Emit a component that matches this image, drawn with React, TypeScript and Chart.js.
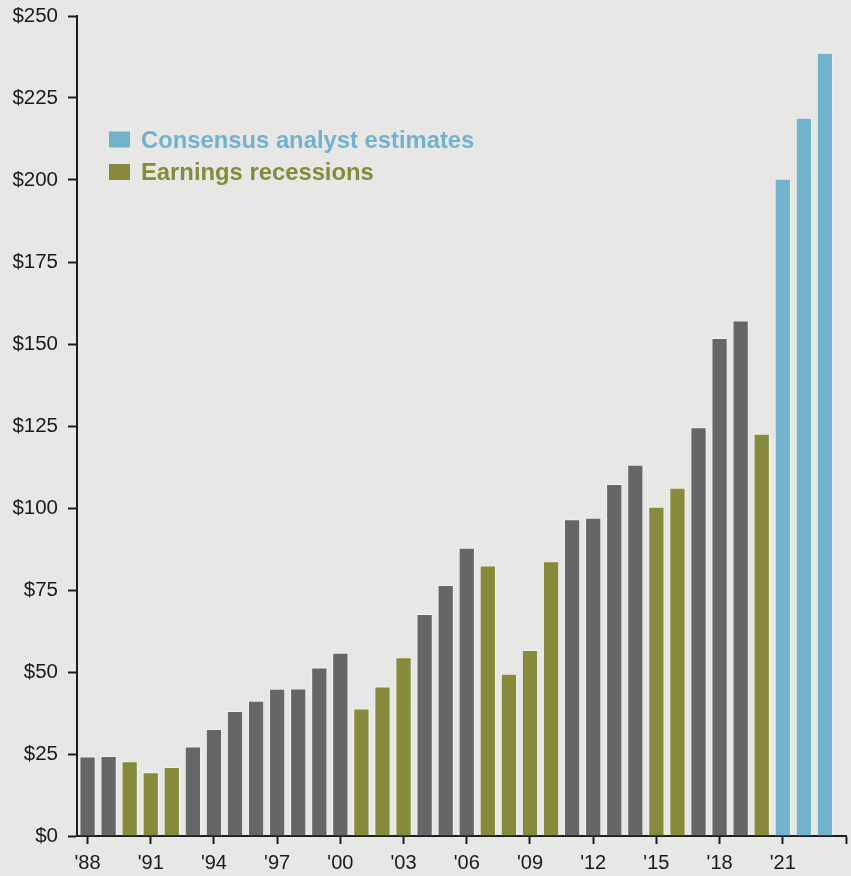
import React, { useEffect, useRef } from "react";
import { Chart, registerables } from "chart.js";

Chart.register(...registerables);

const years = [
  1988, 1989, 1990, 1991, 1992, 1993, 1994, 1995, 1996, 1997, 1998, 1999,
  2000, 2001, 2002, 2003, 2004, 2005, 2006, 2007, 2008, 2009, 2010, 2011,
  2012, 2013, 2014, 2015, 2016, 2017, 2018, 2019, 2020, 2021, 2022, 2023,
];
const eps = [
  24.2, 24.4, 22.8, 19.4, 21.0, 27.3, 32.6, 38.1, 41.2, 44.9, 45.0, 51.4,
  55.9, 38.9, 45.6, 54.5, 67.7, 76.5, 87.9, 82.5, 49.5, 56.7, 83.8, 96.6,
  97.0, 107.3, 113.2, 100.4, 106.2, 124.6, 151.8, 157.2, 122.6, 200.4, 219.0, 238.8,
];
// "a" = actual, "r" = earnings recession, "e" = consensus estimate
const barKind = [
  "a", "a", "r", "r", "r", "a", "a", "a", "a", "a", "a", "a",
  "a", "r", "r", "r", "a", "a", "a", "r", "r", "r", "r", "a",
  "a", "a", "a", "r", "r", "a", "a", "a", "r", "e", "e", "e",
];
const yTicks = [0, 25, 50, 75, 100, 125, 150, 175, 200, 225, 250];
const xTickYears = [1988, 1991, 1994, 1997, 2000, 2003, 2006, 2009, 2012, 2015, 2018, 2021, 2024];
const legendItems = ["Consensus analyst estimates", "Earnings recessions"];

const GREY = "#666666";
const GREEN = "#878a3b";
const BLUE = "#72b2cd";
const BG = "#e7e7e5";
const AXIS = "#1e1e1e";
const FONT = "'Liberation Sans', Arial, Helvetica, sans-serif";

const colorFor = (k: string) => (k === "r" ? GREEN : k === "e" ? BLUE : GREY);

const legendPlugin = {
  id: "customLegend",
  afterDraw(chart: any) {
    const ctx = chart.ctx;
    ctx.save();
    ctx.font = `bold 23.8px ${FONT}`;
    ctx.textBaseline = "alphabetic";
    ctx.textAlign = "left";
    const colors = [BLUE, GREEN];
    legendItems.forEach((t, i) => {
      const base = 147.5 + i * 32.5;
      ctx.fillStyle = colors[i];
      ctx.fillRect(109, base - 16, 21, 16);
      ctx.fillText(t, 141, base);
    });
    ctx.restore();
  },
};

export default function App() {
  const ref = useRef<HTMLCanvasElement | null>(null);
  useEffect(() => {
    if (!ref.current) return;
    const chart = new Chart(ref.current, {
      type: "bar",
      data: {
        datasets: [
          {
            data: years.map((y, i) => ({ x: y, y: eps[i] })),
            backgroundColor: barKind.map(colorFor),
            borderColor: "rgba(255,255,255,0.45)",
            borderWidth: 1,
            barPercentage: 0.77,
            categoryPercentage: 1,
          },
        ],
      },
      options: {
        responsive: false,
        animation: false,
        layout: { padding: { top: 16, right: 5, left: 0, bottom: 0 } },
        plugins: { legend: { display: false }, tooltip: { enabled: false } },
        scales: {
          x: {
            type: "linear",
            offset: false,
            min: 1987.5,
            max: 2024,
            afterBuildTicks: (scale: any) => {
              scale.ticks = xTickYears.map((v) => ({ value: v }));
            },
            afterFit: (scale: any) => {
              scale.height = 40;
              scale.paddingLeft = 0;
              scale.paddingRight = 0;
            },
            grid: {
              drawOnChartArea: false,
              drawTicks: true,
              tickLength: 8,
              tickWidth: 2,
              tickColor: AXIS,
              offset: false,
            },
            border: { display: true, color: AXIS, width: 2 },
            ticks: {
              autoSkip: false,
              maxRotation: 0,
              padding: 7,
              color: "#1a1a1a",
              font: { family: FONT, size: 20 },
              callback: (v: any) =>
                Number(v) === 2024 ? "" : "'" + String(Number(v) % 100).padStart(2, "0"),
            },
          },
          y: {
            min: 0,
            max: 250,
            afterBuildTicks: (scale: any) => {
              scale.ticks = yTicks.map((v) => ({ value: v }));
            },
            afterFit: (scale: any) => {
              scale.width = 77;
              scale.paddingTop = 0;
              scale.paddingBottom = 0;
            },
            grid: {
              drawOnChartArea: false,
              drawTicks: true,
              tickLength: 9,
              tickWidth: 2,
              tickColor: AXIS,
            },
            border: { display: true, color: AXIS, width: 2 },
            ticks: {
              padding: 10,
              color: "#1a1a1a",
              font: { family: FONT, size: 20.5 },
              callback: (v: any) => "$" + v,
            },
          },
        },
      },
      plugins: [legendPlugin],
    });
    return () => chart.destroy();
  }, []);

  return (
    <div style={{ position: "fixed", inset: 0, background: BG, overflow: "hidden" }}>
      <canvas ref={ref} width={851} height={876} style={{ display: "block" }} />
    </div>
  );
}
